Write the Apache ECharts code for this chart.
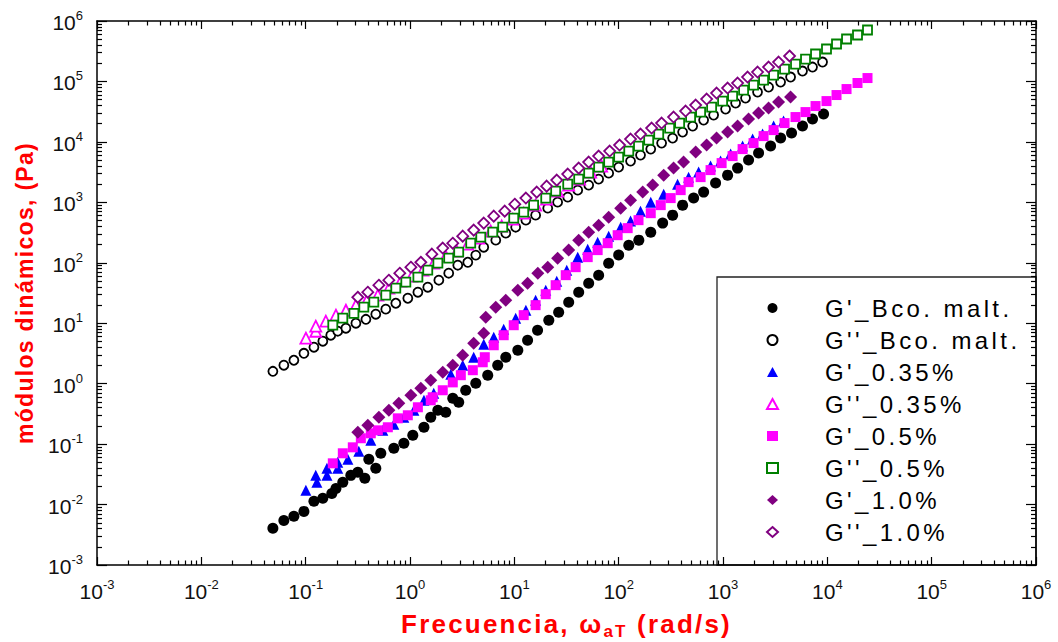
<!DOCTYPE html>
<html><head><meta charset="utf-8">
<script src="https://cdn.jsdelivr.net/npm/echarts@6/dist/echarts.min.js"></script>
<style>html,body{margin:0;padding:0;background:#fff}#chart{width:1058px;height:642px}</style>
</head><body><div id="chart"></div>
<script>
// ---------- data ----------
const seriesNames = ["G'_Bco. malt.", "G''_Bco. malt.", "G'_0.35%", "G''_0.35%", "G'_0.5%", "G''_0.5%", "G'_1.0%", "G''_1.0%"];

const bcoGpX = [0.0485,0.0618,0.0771,0.0962,0.120,0.146,0.178,0.195,0.227,0.271,0.316,0.369,0.403,0.470,0.525,0.700,0.873,1.064,1.36,1.58,1.85,2.20,2.57,2.93,3.42,4.27,5.56,6.93,8.28,10.8,13.4,16.7,21.4,26.6,33.2,41.4,51.6,64.3,80.2,100,125,156,203,264,329,410,523,652,849,1107,1380,1758,2193,2858,3565,4541,5781,7211,9204];
const bcoGpY = [0.00404,0.00547,0.00638,0.00771,0.0113,0.0127,0.0153,0.0185,0.0233,0.0304,0.0341,0.0272,0.056,0.0397,0.0705,0.0851,0.103,0.140,0.190,0.278,0.363,0.336,0.573,0.492,0.778,1.02,1.38,2.02,2.74,3.57,5.23,7.66,11.2,15.2,22.3,32.6,45.9,62.4,98.5,134,195,237,321,453,614,899,1175,1476,2080,2818,3681,5000,6531,8517,11560,14000,18280,23840,28840];

const bcoGppX = [0.0485,0.0618,0.0771,0.0962,0.120,0.146,0.174,0.203,0.243,0.303,0.378,0.470,0.586,0.731,0.953,1.19,1.48,1.89,2.35,2.87,3.58,4.27,5.09,6.64,8.28,10.3,12.9,16.0,20.9,26.0,32.5,40.5,51.6,64.3,80.2,100,130,162,203,258,329,410,512,652,813,1059,1321,1644,2143,2735,3565,4444,5781,7211,8995];
const bcoGppY = [1.60,2.02,2.44,3.18,4.01,5.04,6.33,7.38,8.27,10.0,11.6,14.1,17.1,21.4,25.9,32.6,39.4,51.5,67.3,91.2,102,134,181,237,309,388,507,614,802,1007,1219,1592,1928,2421,3042,3826,4808,6043,7598,9550,11560,14530,18280,22960,27800,34910,43870,53090,66830,80760,97700,118300,148600,173000,209400];

const p035GpX = [0.1005,0.128,0.125,0.160,0.160,0.203,0.203,0.254,0.323,0.421,0.549,0.700,0.873,1.09,1.36,1.69,2.46,3.20,4.08,5.09,6.35,7.91,10.3,12.9,16.0,20.0,25.5,31.8,40.5,50.5,62.9,80.2,104.5,130,162,203,270,367,468,584,760,948,1183,1541,1922,2394,3055,3804];
const p035GpY = [0.0172,0.0233,0.0304,0.0304,0.0397,0.0397,0.0500,0.0560,0.0760,0.116,0.169,0.213,0.278,0.363,0.531,0.693,1.43,2.02,2.74,4.49,5.86,7.96,12.1,16.4,24.0,35.2,49.6,75.4,124,168,219,276,388,489,715,1007,1367,2000,2612,3162,3975,4808,6281,8511,11120,13460,18280,22090];

const p035GppX = [0.1005,0.125,0.125,0.156,0.195,0.243,0.303,0.386,0.492,0.627,0.816,1.04,1.33,1.69,2.20,2.81,3.58,4.56,5.94,7.57,9.66,12.3,16.0,20.4,26.0,33.2,42.3,53.9,68.7];
const p035GppY = [5.65,7.37,8.92,10.8,13.6,16.4,19.9,24.0,29.1,38.0,49.6,60.0,75.4,98.5,129,156,203,255,334,404,527,662,899,1130,1532,1928,2421,3162,3975];

const p05GpX = [0.182,0.227,0.283,0.338,0.421,0.492,0.613,0.764,0.953,1.19,1.58,1.65,2.06,2.57,3.07,4.00,4.98,5.21,6.35,7.91,9.87,12.3,16.0,20.0,24.9,31.1,38.7,50.5,62.9,78.5,97.8,122,155,203,253,315,393,468,610,760,970,1236,1541,1963,2449,3055,3890,4955,6180,7709,9817,12250,15280,19460,24270];
const p05GpY = [0.0481,0.0705,0.0885,0.125,0.151,0.169,0.190,0.267,0.300,0.407,0.531,0.596,0.778,1.05,1.38,1.67,2.26,2.74,4.32,6.33,9.27,13.6,19.9,30.2,42.6,62.4,84.6,124,162,211,286,374,507,662,899,1175,1592,2160,2612,3414,4457,5821,7598,9550,12470,15670,20470,25760,31120,39170,47320,59570,74820,94170,113800];

const p05GppX = [0.182,0.227,0.290,0.361,0.450,0.586,0.731,0.912,1.19,1.48,1.85,2.35,2.93,3.82,4.77,6.21,7.74,9.87,12.3,15.3,20.0,24.9,32.5,41.4,51.6,64.3,80.2,100,125,155,194,242,308,384,489,610,778,991,1236,1575,1963,2449,3055,3890,4955,6180,7709,9817,12250,15280,19460,24270];
const p05GppY = [9.27,12.1,14.6,18.4,22.3,29.1,38.0,47.7,57.8,75.4,98.5,119,150,211,265,321,388,547,688,899,1175,1532,2000,2421,3042,3826,4630,5598,7041,8511,10710,13460,16920,20470,25760,31120,37670,47320,57300,72100,87150,105500,127600,160300,194100,234900,284300,343900,416000,503500,586300,709700];

const p10GpX = [0.316,0.394,0.503,0.627,0.781,1.02,1.27,1.58,2.06,2.57,3.20,4.08,5.09,5.32,6.64,8.27,10.8,13.4,16.8,20.9,26.0,33.2,41.4,51.6,64.3,80.2,104.5,130,170,212,270,336,419,547,697,868,1107,1380,1758,2193,2735,3410,4444];
const p10GpY = [0.157,0.205,0.278,0.363,0.473,0.643,0.839,1.14,1.54,2.02,2.95,4.67,6.83,12.6,18.4,24.0,35.2,45.9,67.3,84.6,119,162,237,321,419,569,802,1087,1476,1928,2818,3681,4630,6776,8851,11560,14530,18280,23840,29990,36280,45600,55200];

const p10GppX = [0.316,0.394,0.503,0.627,0.798,1.02,1.27,1.62,2.06,2.57,3.20,4.08,5.09,6.35,8.09,10.1,12.9,16.4,20.4,25.5,32.5,41.4,51.6,64.3,82.0,102,130,162,207,258,336,438,547,697,868,1107,1380,1721,2145,2735,3410,4345];
const p10GppY = [26.9,32.6,42.6,51.5,67.3,84.6,102,139,175,211,276,347,453,591,715,933,1175,1476,1854,2331,2931,3681,4630,5821,7041,8851,11120,13460,16920,20470,25760,32360,40640,51170,64270,77800,94170,118300,143200,173000,209400,263500];

const xTickValues = [0.001,0.01,0.1,1,10,100,1000,10000,100000,1000000];
const yTickValues = [0.001,0.01,0.1,1,10,100,1000,10000,100000,1000000];
const xTitleParts = ['Frecuencia, ω', 'aT', ' (rad/s)'];
const yTitle = 'módulos dinámicos, (Pa)';

// ---------- build ----------
const FONT = '"Liberation Sans", Arial, Helvetica, sans-serif';
function zip(xs, ys) { const n = Math.min(xs.length, ys.length); const out = []; for (let i = 0; i < n; i++) out.push([xs[i], ys[i]]); return out; }
function minorTicks(vals) { const out = []; for (let i = 0; i < vals.length - 1; i++) { for (let m = 2; m <= 9; m++) out.push(+(m * vals[i]).toPrecision(6)); } return out; }
const xMinor = minorTicks(xTickValues), yMinor = minorTicks(yTickValues);

const seriesData = [zip(bcoGpX, bcoGpY), zip(bcoGppX, bcoGppY), zip(p035GpX, p035GpY), zip(p035GppX, p035GppY),
                    zip(p05GpX, p05GpY), zip(p05GppX, p05GppY), zip(p10GpX, p10GpY), zip(p10GppX, p10GppY)];
const styles = [
  {symbol:'circle', symbolSize:11, itemStyle:{color:'#000', opacity:1}},
  {symbol:'circle', symbolSize:9, itemStyle:{color:'#fff', borderColor:'#000', borderWidth:1.8, opacity:1}},
  {symbol:'triangle', symbolSize:11, itemStyle:{color:'#0000ff', opacity:1}},
  {symbol:'triangle', symbolSize:11, itemStyle:{color:'#fff', borderColor:'#ff00ff', borderWidth:1.8, opacity:1}},
  {symbol:'rect', symbolSize:10, itemStyle:{color:'#ff00ff', opacity:1}},
  {symbol:'rect', symbolSize:9, itemStyle:{color:'#fff', borderColor:'#008000', borderWidth:1.8, opacity:1}},
  {symbol:'diamond', symbolSize:13, itemStyle:{color:'#800080', opacity:1}},
  {symbol:'diamond', symbolSize:11, itemStyle:{color:'#fff', borderColor:'#800080', borderWidth:1.8, opacity:1}}
];
const series = seriesNames.map((nm, i) => Object.assign({
  name: nm, type: 'scatter', xAxisIndex: 0, yAxisIndex: 0, data: seriesData[i], z: 2 + i,
  emphasis: {disabled: true}, animation: false
}, styles[i]));

function expLabel(v) { const e = Math.round(Math.log10(v)); return '{b|10}{e|' + e + '}'; }
const labelRich = {
  b: {fontSize: 21, fontFamily: FONT, color: '#111', lineHeight: 24, verticalAlign: 'bottom'},
  e: {fontSize: 13, fontFamily: FONT, color: '#111', lineHeight: 14, verticalAlign: 'top'}
};
const LINE = {color: '#000', width: 1.5};
function axisBase(pos, ticks, len, showLine) {
  return {type: 'log', logBase: 10, min: 0.001, max: 1000000, position: pos, gridIndex: 0,
    axisLine: {show: showLine, onZero: false, lineStyle: LINE},
    axisTick: {show: true, inside: true, length: len, customValues: ticks, lineStyle: {color: '#000', width: 1.2}},
    axisLabel: {show: false}, splitLine: {show: false}, minorTick: {show: false}, silent: true};
}
const xMain = axisBase('bottom', xTickValues, 8, true);
xMain.axisLabel = {show: true, margin: 13, customValues: xTickValues, formatter: expLabel, rich: labelRich};
xMain.name = '{t|' + xTitleParts[0] + '}{s|' + xTitleParts[1] + '}{t|' + xTitleParts[2] + '}';
xMain.nameLocation = 'middle';
xMain.nameGap = 45;
xMain.nameTextStyle = {rich: {
  t: {fontSize: 26, fontWeight: 'bold', fontFamily: FONT, color: '#ff0000', lineHeight: 30, padding: [0,0,3,0], verticalAlign: 'bottom'},
  s: {fontSize: 17, fontWeight: 'bold', fontFamily: FONT, color: '#ff0000', lineHeight: 17, verticalAlign: 'bottom'}
}};
const yMain = axisBase('left', yTickValues, 10, true);
yMain.axisLabel = {show: true, margin: 14, customValues: yTickValues, formatter: expLabel, rich: labelRich};
yMain.name = yTitle;
yMain.nameLocation = 'middle';
yMain.nameRotate = 90;
yMain.nameGap = 61;
yMain.nameTextStyle = {fontSize: 23, fontWeight: 'bold', fontFamily: FONT, color: '#ff0000'};

const option = {
  animation: false,
  backgroundColor: '#fff',
  grid: {left: 97, right: 22, top: 21, bottom: 77, containLabel: false, outerBoundsMode: 'none'},
  xAxis: [xMain, axisBase('bottom', xMinor, 4.5, false), axisBase('top', xTickValues, 8, true), axisBase('top', xMinor, 4.5, false)],
  yAxis: [yMain, axisBase('left', yMinor, 5, false), axisBase('right', yTickValues, 10, true), axisBase('right', yMinor, 5, false)],
  legend: {
    orient: 'vertical', left: 766, top: 295, padding: 0, itemGap: 6, itemWidth: 11, itemHeight: 10,
    selectedMode: false, data: seriesNames,
    textStyle: {fontFamily: FONT, fontSize: 24, color: '#000', lineHeight: 26, padding: [0, 0, 0, 42]}
  },
  graphic: [{type: 'rect', z: 0, silent: true, shape: {x: 717, y: 277, width: 319, height: 288},
             style: {fill: '#fff', stroke: '#222', lineWidth: 1.3}}],
  series: series
};

const chart = echarts.init(document.getElementById('chart'), null, {renderer: 'svg', width: 1058, height: 642});
chart.setOption(option);

// letter spacing like the original (kept on the real text elements)
function tweakText() {
  const texts = Array.from(document.querySelectorAll('#chart svg text'));
  const xParts = [];
  texts.forEach(t => {
    if (t.getAttribute('data-ls')) return;
    const s = t.textContent;
    if (seriesNames.indexOf(s) >= 0) { t.style.letterSpacing = '3.4px'; t.setAttribute('data-ls', '1'); }
    else if (s === yTitle) { t.style.letterSpacing = '1.3px'; t.setAttribute('data-ls', '1'); }
    else if (xTitleParts.map(p => p.trim()).indexOf(s.trim()) >= 0) xParts.push(t);
  });
  if (xParts.length) {
    const host = document.getElementById('chart').getBoundingClientRect();
    const sp = 2.2;
    xParts.forEach(t => {
      t.style.letterSpacing = sp + 'px';
      t.style.whiteSpace = 'pre';
      t.setAttribute('xml:space', 'preserve');
      t.setAttribute('text-anchor', 'start');
      t.setAttribute('data-ls', '1');
    });
    const rects = xParts.map(t => t.getBoundingClientRect());
    const lens = xParts.map(t => t.getComputedTextLength());
    const total = lens.reduce((a, b) => a + b, 0);
    let want = host.left + (97 + 1036) / 2 - total / 2;
    xParts.forEach((t, i) => {
      const x = parseFloat(t.getAttribute('x') || '0');
      t.setAttribute('x', (x + (want - rects[i].left)).toFixed(2));
      want += lens[i];
    });
  }
}
tweakText();
chart.on('finished', tweakText);
</script>
</body></html>
